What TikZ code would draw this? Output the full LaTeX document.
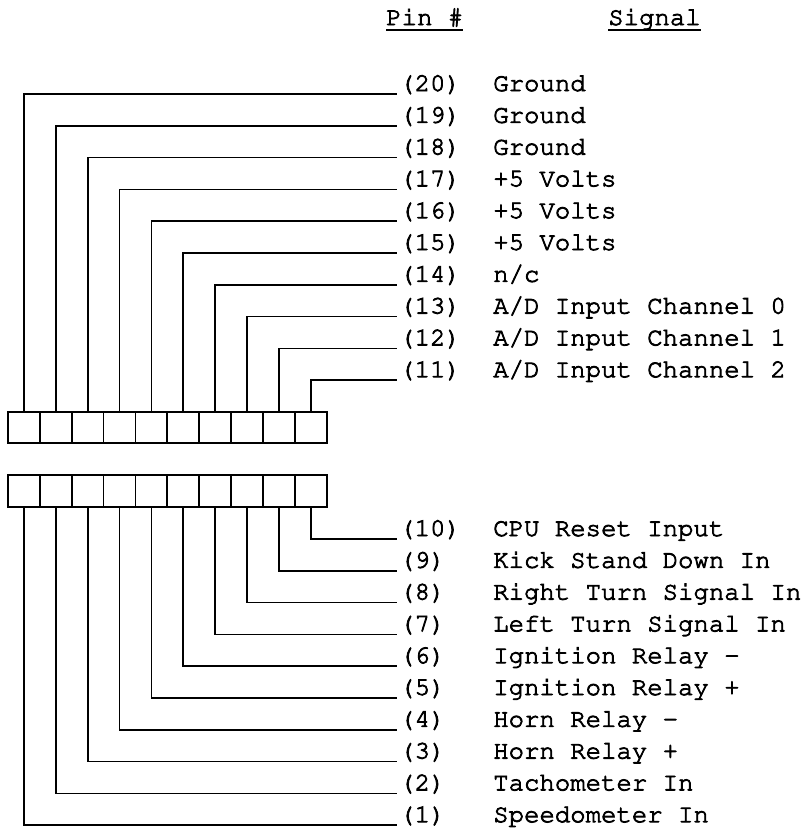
\documentclass[tikz,border=0pt]{standalone}
\usepackage[T1]{fontenc}
\renewcommand{\ttdefault}{pcr}
\usetikzlibrary{positioning}
\newcommand{\hdrul}[1]{\setbox0=\hbox{#1}\rlap{\rule[-4.5pt]{\wd0}{1.6pt}}\box0}
\newcommand{\inkier}{\special{pdf:literal direct 2 Tr 0.6 w}}

\begin{document}
\begin{tikzpicture}[x=0.75pt, y=-0.75pt, node distance=0pt, cell/.style={draw, line width=1.3pt, outer sep=0pt, inner sep=0pt, minimum width=23.9pt, minimum height=23.6pt}, pinlbl/.style={anchor=base west, inner sep=0pt, font=\ttfamily\fontsize{19.25}{20}\selectfont\inkier}, siglbl/.style={pinlbl}, wire/.style={line width=1.3pt}]
\useasboundingbox (0,0) rectangle (812,828);

% headings
\node[pinlbl] (hpin) at (386,25) {\hdrul{Pin \#}};
\node[pinlbl] (hsig) at (608,25) {\hdrul{Signal}};

% upper connector, pins 20 ... 11
\node[cell] (c20) at (23.95,427.5) {};
\node[cell, right=of c20] (c19) {};
\node[cell, right=of c19] (c18) {};
\node[cell, right=of c18] (c17) {};
\node[cell, right=of c17] (c16) {};
\node[cell, right=of c16] (c15) {};
\node[cell, right=of c15] (c14) {};
\node[cell, right=of c14] (c13) {};
\node[cell, right=of c13] (c12) {};
\node[cell, right=of c12] (c11) {};

% lower connector, pins 1 ... 10
\node[cell] (c1) at (23.95,491) {};
\node[cell, right=of c1] (c2) {};
\node[cell, right=of c2] (c3) {};
\node[cell, right=of c3] (c4) {};
\node[cell, right=of c4] (c5) {};
\node[cell, right=of c5] (c6) {};
\node[cell, right=of c6] (c7) {};
\node[cell, right=of c7] (c8) {};
\node[cell, right=of c8] (c9) {};
\node[cell, right=of c9] (c10) {};

% pin numbers
\node[pinlbl] (p20) at (399,91) {(20)};
\node[pinlbl] (p19) at ([yshift=-23.85pt]p20.base west) {(19)};
\node[pinlbl] (p18) at ([yshift=-23.85pt]p19.base west) {(18)};
\node[pinlbl] (p17) at ([yshift=-23.85pt]p18.base west) {(17)};
\node[pinlbl] (p16) at ([yshift=-23.85pt]p17.base west) {(16)};
\node[pinlbl] (p15) at ([yshift=-23.85pt]p16.base west) {(15)};
\node[pinlbl] (p14) at ([yshift=-23.85pt]p15.base west) {(14)};
\node[pinlbl] (p13) at ([yshift=-23.85pt]p14.base west) {(13)};
\node[pinlbl] (p12) at ([yshift=-23.85pt]p13.base west) {(12)};
\node[pinlbl] (p11) at ([yshift=-23.85pt]p12.base west) {(11)};
\node[pinlbl] (p10) at (399,536) {(10)};
\node[pinlbl] (p9) at ([yshift=-23.85pt]p10.base west) {(9)};
\node[pinlbl] (p8) at ([yshift=-23.85pt]p9.base west) {(8)};
\node[pinlbl] (p7) at ([yshift=-23.85pt]p8.base west) {(7)};
\node[pinlbl] (p6) at ([yshift=-23.85pt]p7.base west) {(6)};
\node[pinlbl] (p5) at ([yshift=-23.85pt]p6.base west) {(5)};
\node[pinlbl] (p4) at ([yshift=-23.85pt]p5.base west) {(4)};
\node[pinlbl] (p3) at ([yshift=-23.85pt]p4.base west) {(3)};
\node[pinlbl] (p2) at ([yshift=-23.85pt]p3.base west) {(2)};
\node[pinlbl] (p1) at ([yshift=-23.85pt]p2.base west) {(1)};

% signals
\node[siglbl] (s20) at ([xshift=70.5pt]p20.base west) {Ground};
\node[siglbl] (s19) at ([xshift=70.5pt]p19.base west) {Ground};
\node[siglbl] (s18) at ([xshift=70.5pt]p18.base west) {Ground};
\node[siglbl] (s17) at ([xshift=70.5pt]p17.base west) {+5 Volts};
\node[siglbl] (s16) at ([xshift=70.5pt]p16.base west) {+5 Volts};
\node[siglbl] (s15) at ([xshift=70.5pt]p15.base west) {+5 Volts};
\node[siglbl] (s14) at ([xshift=70.5pt]p14.base west) {n/c};
\node[siglbl] (s13) at ([xshift=70.5pt]p13.base west) {A/D Input Channel 0};
\node[siglbl] (s12) at ([xshift=70.5pt]p12.base west) {A/D Input Channel 1};
\node[siglbl] (s11) at ([xshift=70.5pt]p11.base west) {A/D Input Channel 2};
\node[siglbl] (s10) at ([xshift=70.5pt]p10.base west) {CPU Reset Input};
\node[siglbl] (s9) at ([xshift=70.5pt]p9.base west) {Kick Stand Down In};
\node[siglbl] (s8) at ([xshift=70.5pt]p8.base west) {Right Turn Signal In};
\node[siglbl] (s7) at ([xshift=70.5pt]p7.base west) {Left Turn Signal In};
\node[siglbl] (s6) at ([xshift=70.5pt]p6.base west) {Ignition Relay -};
\node[siglbl] (s5) at ([xshift=70.5pt]p5.base west) {Ignition Relay +};
\node[siglbl] (s4) at ([xshift=70.5pt]p4.base west) {Horn Relay -};
\node[siglbl] (s3) at ([xshift=70.5pt]p3.base west) {Horn Relay +};
\node[siglbl] (s2) at ([xshift=70.5pt]p2.base west) {Tachometer In};
\node[siglbl] (s1) at ([xshift=70.5pt]p1.base west) {Speedometer In};

% wires
\draw[wire](c20.north)|-([shift={(-1.5pt,-2.25pt)}]p20.base west);\draw[wire](c19.north)|-([shift={(-1.5pt,-2.25pt)}]p19.base west);\draw[wire](c18.north)|-([shift={(-1.5pt,-2.25pt)}]p18.base west);\draw[wire](c17.north)|-([shift={(-1.5pt,-2.25pt)}]p17.base west);\draw[wire](c16.north)|-([shift={(-1.5pt,-2.25pt)}]p16.base west);
\draw[wire](c15.north)|-([shift={(-1.5pt,-2.25pt)}]p15.base west);\draw[wire](c14.north)|-([shift={(-1.5pt,-2.25pt)}]p14.base west);\draw[wire](c13.north)|-([shift={(-1.5pt,-2.25pt)}]p13.base west);\draw[wire](c12.north)|-([shift={(-1.5pt,-2.25pt)}]p12.base west);\draw[wire](c11.north)|-([shift={(-1.5pt,-2.25pt)}]p11.base west);
\draw[wire](c10.south)|-([shift={(-1.5pt,-2.25pt)}]p10.base west);\draw[wire](c9.south)|-([shift={(-1.5pt,-2.25pt)}]p9.base west);\draw[wire](c8.south)|-([shift={(-1.5pt,-2.25pt)}]p8.base west);\draw[wire](c7.south)|-([shift={(-1.5pt,-2.25pt)}]p7.base west);\draw[wire](c6.south)|-([shift={(-1.5pt,-2.25pt)}]p6.base west);
\draw[wire](c5.south)|-([shift={(-1.5pt,-2.25pt)}]p5.base west);\draw[wire](c4.south)|-([shift={(-1.5pt,-2.25pt)}]p4.base west);\draw[wire](c3.south)|-([shift={(-1.5pt,-2.25pt)}]p3.base west);\draw[wire](c2.south)|-([shift={(-1.5pt,-2.25pt)}]p2.base west);\draw[wire](c1.south)|-([shift={(-1.5pt,-2.25pt)}]p1.base west);

\end{tikzpicture}
\end{document}
